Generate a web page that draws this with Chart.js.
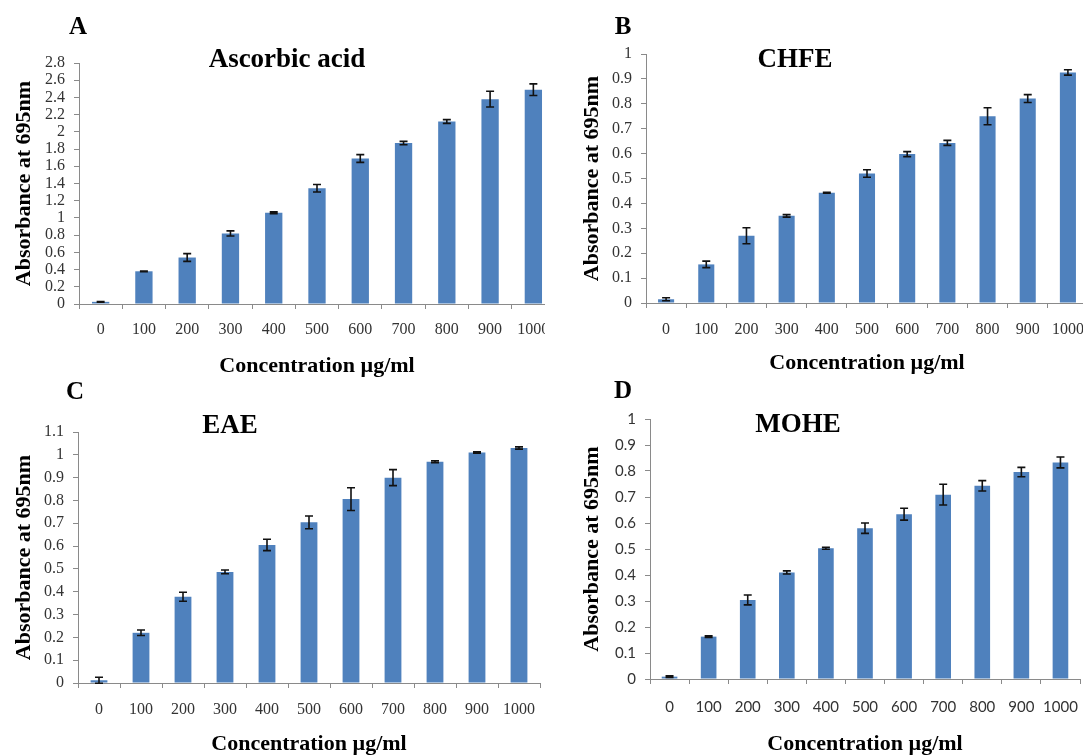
<!DOCTYPE html>
<html>
<head>
<meta charset="utf-8">
<script src="https://cdn.jsdelivr.net/npm/chart.js@4.4.1/dist/chart.umd.min.js"></script>
<style>
  html, body { margin: 0; padding: 0; background: #fff; width: 1083px; height: 755px; overflow: hidden; }
  body { position: relative; }
  .panel { position: absolute; overflow: hidden; }
  .panel canvas { position: absolute; left: 0; top: 0; }
  .tag, .ttl {
    position: absolute; font-family: "Liberation Serif", "Times New Roman", serif;
    font-weight: bold; color: #000; line-height: 1; white-space: nowrap;
    transform: translate(-50%, -50%);
  }
  .tag { font-size: 25px; }
  .ttl { font-size: 27px; }
</style>
</head>
<body>
<div class="panel" style="left:0;top:0;width:545px;height:380px"><canvas id="chartA" width="600" height="380"></canvas></div>
<div class="panel" style="left:545px;top:0;width:538px;height:380px"><canvas id="chartB" width="600" height="380"></canvas></div>
<div class="panel" style="left:0;top:380px;width:545px;height:375px"><canvas id="chartC" width="600" height="375"></canvas></div>
<div class="panel" style="left:545px;top:380px;width:538px;height:375px"><canvas id="chartD" width="600" height="375"></canvas></div>

<div class="tag" style="left:78px;top:25px">A</div>
<div class="tag" style="left:623px;top:25px">B</div>
<div class="tag" style="left:75px;top:390px">C</div>
<div class="tag" style="left:623px;top:389px">D</div>

<div class="ttl" style="left:287px;top:58px">Ascorbic acid</div>
<div class="ttl" style="left:795px;top:58px">CHFE</div>
<div class="ttl" style="left:230px;top:424px">EAE</div>
<div class="ttl" style="left:798px;top:423px">MOHE</div>

<script>
// Concentrations tested (µg/ml) — shared category axis
const concentrations = ['0', '100', '200', '300', '400', '500', '600', '700', '800', '900', '1000'];

// Reducing power: mean absorbance at 695 nm and error (±)
const ascorbicMeans  = [0.025, 0.38, 0.54, 0.82, 1.06, 1.345, 1.69, 1.87, 2.12, 2.38, 2.49];
const ascorbicErrors = [0.004, 0.004, 0.045, 0.03, 0.01, 0.043, 0.045, 0.02, 0.022, 0.092, 0.068];

const chfeMeans  = [0.015, 0.155, 0.27, 0.35, 0.443, 0.52, 0.598, 0.643, 0.75, 0.821, 0.926];
const chfeErrors = [0.006, 0.013, 0.032, 0.005, 0.002, 0.015, 0.01, 0.01, 0.034, 0.016, 0.011];

const eaeMeans  = [0.012, 0.22, 0.378, 0.487, 0.605, 0.704, 0.806, 0.9, 0.97, 1.01, 1.03];
const eaeErrors = [0.013, 0.012, 0.02, 0.008, 0.025, 0.028, 0.05, 0.035, 0.004, 0.003, 0.005];

const moheMeans  = [0.009, 0.163, 0.304, 0.41, 0.503, 0.58, 0.634, 0.709, 0.743, 0.796, 0.833];
const moheErrors = [0.003, 0.003, 0.019, 0.006, 0.004, 0.02, 0.023, 0.04, 0.02, 0.018, 0.021];

// Value-axis tick labels for each panel
const ascorbicYTicks = [0, 0.2, 0.4, 0.6, 0.8, 1, 1.2, 1.4, 1.6, 1.8, 2, 2.2, 2.4, 2.6, 2.8];
const chfeYTicks     = [0, 0.1, 0.2, 0.3, 0.4, 0.5, 0.6, 0.7, 0.8, 0.9, 1];
const eaeYTicks      = [0, 0.1, 0.2, 0.3, 0.4, 0.5, 0.6, 0.7, 0.8, 0.9, 1, 1.1];
const moheYTicks     = [0, 0.1, 0.2, 0.3, 0.4, 0.5, 0.6, 0.7, 0.8, 0.9, 1];

const BAR_BLUE = '#4F81BD';
const AXIS_GREY = '#8a8a8a';
const TICK_TEXT = '#333333';
const SERIF = '"Liberation Serif", "Times New Roman", serif';
const SANS = 'Lato, "Liberation Sans", sans-serif';

// Draws ± error bars with caps on top of each bar, using the chart's own scales
const errorBars = {
  id: 'errorBars',
  afterDatasetsDraw(chart) {
    const { ctx, scales: { y } } = chart;
    chart.data.datasets.forEach((ds, i) => {
      const meta = chart.getDatasetMeta(i);
      meta.data.forEach((bar, j) => {
        const m = ds.data[j], e = ds.errors[j];
        const yTop = y.getPixelForValue(m + e);
        const yBot = y.getPixelForValue(m - e);
        const cap = 4;
        ctx.save();
        ctx.strokeStyle = '#111';
        ctx.lineWidth = 1.6;
        ctx.beginPath();
        ctx.moveTo(bar.x, yTop); ctx.lineTo(bar.x, yBot);
        ctx.moveTo(bar.x - cap, yTop); ctx.lineTo(bar.x + cap, yTop);
        ctx.moveTo(bar.x - cap, yBot); ctx.lineTo(bar.x + cap, yBot);
        ctx.stroke();
        ctx.restore();
      });
    });
  }
};

function buildPanel(cfg) {
  const canvas = document.getElementById(cfg.id);
  const W = canvas.width, H = canvas.height;
  const a = cfg.area;
  const tickFont = { family: cfg.tickFamily, size: cfg.tickSize };
  const axisTitleFont = { family: SERIF, size: 22, weight: 'bold', lineHeight: 1 };
  return new Chart(canvas, {
    type: 'bar',
    data: {
      labels: concentrations,
      datasets: [{
        data: cfg.means,
        errors: cfg.errors,
        backgroundColor: BAR_BLUE,
        borderWidth: 0,
        categoryPercentage: 1,
        barPercentage: 0.4
      }]
    },
    options: {
      responsive: false,
      animation: false,
      devicePixelRatio: 1,
      layout: { padding: { left: 0, top: a.top, right: W - a.right, bottom: 0 } },
      plugins: { legend: { display: false }, tooltip: { enabled: false }, title: { display: false } },
      scales: {
        x: {
          afterFit: s => { s.height = H - a.bottom; },
          grid: { display: true, drawOnChartArea: false, drawTicks: true, tickLength: 5, color: AXIS_GREY, offset: true },
          border: { display: true, color: AXIS_GREY, width: 1 },
          ticks: { font: tickFont, color: TICK_TEXT, padding: cfg.xLabelPad, maxRotation: 0, autoSkip: false },
          title: { display: true, text: 'Concentration µg/ml', font: axisTitleFont, color: '#000',
                   padding: { top: 0, bottom: cfg.xTitlePad } }
        },
        y: {
          min: cfg.yTicks[0],
          max: cfg.yTicks[cfg.yTicks.length - 1],
          afterFit: s => { s.width = a.left; },
          afterBuildTicks: s => { s.ticks = cfg.yTicks.map(v => ({ value: v })); },
          grid: { display: true, drawOnChartArea: false, drawTicks: true, tickLength: 5, color: AXIS_GREY },
          border: { display: true, color: AXIS_GREY, width: 1 },
          ticks: { font: tickFont, color: TICK_TEXT, padding: 9, autoSkip: false,
                   callback: v => String(+Number(v).toFixed(2)) },
          title: { display: true, text: 'Absorbance at 695nm', font: axisTitleFont, color: '#000',
                   padding: { top: cfg.yTitlePad, bottom: 0 } }
        }
      }
    },
    plugins: [errorBars]
  });
}

buildPanel({ id: 'chartA', means: ascorbicMeans, errors: ascorbicErrors, yTicks: ascorbicYTicks,
  area: { left: 79, top: 63, right: 555, bottom: 304 }, tickFamily: SERIF, tickSize: 16,
  xLabelPad: 11, xTitlePad: 3, yTitlePad: 13 });
buildPanel({ id: 'chartB', means: chfeMeans, errors: chfeErrors, yTicks: chfeYTicks,
  area: { left: 101, top: 54, right: 543, bottom: 303 }, tickFamily: SERIF, tickSize: 16,
  xLabelPad: 12, xTitlePad: 6, yTitlePad: 36 });
buildPanel({ id: 'chartC', means: eaeMeans, errors: eaeErrors, yTicks: eaeYTicks,
  area: { left: 78, top: 52, right: 540, bottom: 303 }, tickFamily: SERIF, tickSize: 16,
  xLabelPad: 12, xTitlePad: 0, yTitlePad: 13 });
buildPanel({ id: 'chartD', means: moheMeans, errors: moheErrors, yTicks: moheYTicks,
  area: { left: 105, top: 39, right: 535, bottom: 299 }, tickFamily: SANS, tickSize: 15,
  xLabelPad: 14, xTitlePad: 0, yTitlePad: 36 });
</script>
</body>
</html>
